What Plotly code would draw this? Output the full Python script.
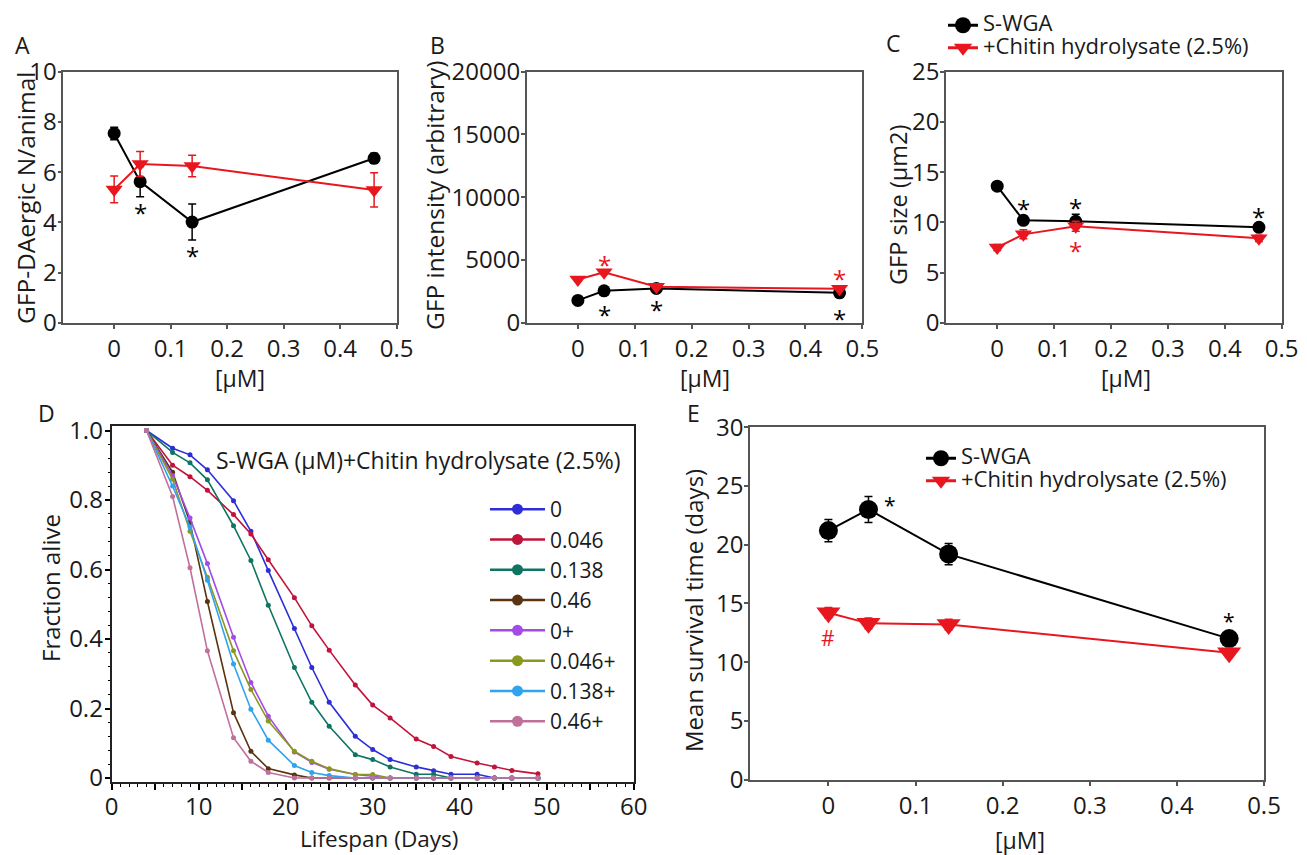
import plotly.graph_objects as go

# Reference canvas is 1307x855; the page body adds an 8px offset, so the
# figure itself is 8px smaller and every pixel position is shifted by 8.
W, H = 1307, 855
OFF = 8
FW, FH = W - OFF, H - OFF
FONT = "Open Sans"
RED = "#E8161E"
BLK = "#000000"
AX = "#555555"

# ---------------- data ----------------
conc = [0, 0.046, 0.138, 0.46]
x_ticks = [0, 0.1, 0.2, 0.3, 0.4, 0.5]
x_ticktext = ["0", "0.1", "0.2", "0.3", "0.4", "0.5"]

# Panel A: GFP-DAergic N/animal
a_swga = [7.54, 5.62, 4.01, 6.55]
a_swga_err = [0.25, 0.6, 0.72, 0.2]
a_chit = [5.31, 6.32, 6.24, 5.29]
a_chit_err = [0.53, 0.5, 0.43, 0.68]
a_star_black_x = [0.046, 0.138]
a_star_black_y = [4.62, 2.90]

# Panel B: GFP intensity
b_swga = [1775, 2543, 2728, 2384]
b_swga_err = [120, 150, 150, 150]
b_chit = [3444, 4026, 2861, 2702]
b_chit_err = [120, 150, 120, 120]
b_star_black_x = [0.046, 0.138, 0.46]
b_star_black_y = [1113, 1510, 795]
b_star_red_x = [0.046, 0.46]
b_star_red_y = [5086, 3974]

# Panel C: GFP size
c_swga = [13.6, 10.2, 10.1, 9.5]
c_swga_err = [0.4, 0.4, 0.7, 0.3]
c_chit = [7.5, 8.8, 9.6, 8.4]
c_chit_err = [0.3, 0.45, 0.5, 0.3]
c_star_black_x = [0.046, 0.138, 0.46]
c_star_black_y = [11.95, 12.12, 11.19]
c_star_red_x = [0.138]
c_star_red_y = [7.80]

# Panel D: survival curves
days = [4, 7, 9, 11, 14, 16, 18, 21, 23, 25, 28, 30, 32, 35, 37, 39, 42, 44, 46, 49]
d_labels = ["0", "0.046", "0.138", "0.46", "0+", "0.046+", "0.138+", "0.46+"]
d_0 = [1.0, 0.949, 0.93, 0.887, 0.798, 0.71, 0.597, 0.43, 0.318, 0.218, 0.12, 0.082, 0.053, 0.032, 0.021, 0.011, 0.011, 0.0, 0.0, 0.0]
d_0046 = [1.0, 0.9, 0.867, 0.828, 0.758, 0.702, 0.628, 0.519, 0.438, 0.368, 0.268, 0.21, 0.173, 0.112, 0.091, 0.062, 0.043, 0.032, 0.022, 0.012]
d_0138 = [1.0, 0.937, 0.907, 0.858, 0.726, 0.626, 0.497, 0.318, 0.218, 0.149, 0.067, 0.053, 0.032, 0.011, 0.011, 0.0, 0.0, 0.0, 0.0, 0.0]
d_046 = [1.0, 0.88, 0.735, 0.508, 0.188, 0.077, 0.027, 0.009, 0.0, 0.0, 0.0, 0.0, 0.0, 0.0, 0.0, 0.0, 0.0, 0.0, 0.0, 0.0]
d_0p = [1.0, 0.87, 0.748, 0.617, 0.405, 0.275, 0.178, 0.075, 0.045, 0.025, 0.01, 0.005, 0.0, 0.0, 0.0, 0.0, 0.0, 0.0, 0.0, 0.0]
d_0046p = [1.0, 0.86, 0.71, 0.578, 0.366, 0.255, 0.164, 0.077, 0.048, 0.027, 0.01, 0.01, 0.0, 0.0, 0.0, 0.0, 0.0, 0.0, 0.0, 0.0]
d_0138p = [1.0, 0.84, 0.722, 0.569, 0.328, 0.198, 0.109, 0.036, 0.016, 0.007, 0.0, 0.0, 0.0, 0.0, 0.0, 0.0, 0.0, 0.0, 0.0, 0.0]
d_046p = [1.0, 0.81, 0.605, 0.366, 0.116, 0.048, 0.016, 0.0, 0.0, 0.0, 0.0, 0.0, 0.0, 0.0, 0.0, 0.0, 0.0, 0.0, 0.0, 0.0]
d_series = [d_0, d_0046, d_0138, d_046, d_0p, d_0046p, d_0138p, d_046p]
d_colors = ["#2E2ED8", "#C0143C", "#0F7562", "#5A3410", "#A24BE6", "#8A981F", "#2FA3EE", "#C0709A"]

# Panel E: mean survival time
e_swga = [21.2, 23.0, 19.2, 12.0]
e_swga_err = [0.95, 1.1, 0.9, 0.3]
e_chit = [14.2, 13.3, 13.2, 10.8]
e_chit_err = [0.45, 0.45, 0.45, 0.4]
e_star_black_x = [0.071, 0.46]
e_star_black_y = [23.8, 13.94]
e_hash_x = [0]
e_hash_y = [12.1]

# ---------------- layout helpers (reference pixel -> paper) ----------------
def px(x):
    return (x - OFF) / FW

def py(y):
    return 1 - (y - OFF) / FH

def dom_x(l, r):
    return [px(l), px(r)]

def dom_y(t, b):
    return [py(b), py(t)]

fig = go.Figure()

def pair(xa, ya, s, s_err, c, c_err, msize, tsize, lw):
    fig.add_trace(go.Scatter(
        x=conc, y=s, mode="lines+markers", xaxis=xa, yaxis=ya, showlegend=False,
        line=dict(color=BLK, width=lw), marker=dict(symbol="circle", size=msize, color=BLK),
        error_y=dict(type="data", array=s_err, color=BLK, thickness=1.5, width=4)))
    fig.add_trace(go.Scatter(
        x=conc, y=c, mode="lines+markers", xaxis=xa, yaxis=ya, showlegend=False,
        line=dict(color=RED, width=lw), marker=dict(symbol="triangle-down", size=tsize, color=RED),
        error_y=dict(type="data", array=c_err, color=RED, thickness=1.5, width=4)))

def stars(xa, ya, xs, ys, color, size=24, txt="*", shift=-6):
    for xv, yv in zip(xs, ys):
        fig.add_annotation(x=xv, y=yv, xref=xa, yref=ya, text=txt, showarrow=False,
                           xanchor="center", yanchor="middle", yshift=shift,
                           font=dict(size=size, color=color, family=FONT))

pair("x", "y", a_swga, a_swga_err, a_chit, a_chit_err, 13, 15, 2)
stars("x", "y", a_star_black_x, a_star_black_y, BLK)

pair("x2", "y2", b_swga, b_swga_err, b_chit, b_chit_err, 13, 15, 2)
stars("x2", "y2", b_star_black_x, b_star_black_y, BLK)
stars("x2", "y2", b_star_red_x, b_star_red_y, RED)

pair("x3", "y3", c_swga, c_swga_err, c_chit, c_chit_err, 13, 15, 2)
stars("x3", "y3", c_star_black_x, c_star_black_y, BLK)
stars("x3", "y3", c_star_red_x, c_star_red_y, RED)

for name, vals, col in zip(d_labels, d_series, d_colors):
    fig.add_trace(go.Scatter(
        x=days, y=vals, mode="lines+markers", xaxis="x4", yaxis="y4", showlegend=False,
        line=dict(color=col, width=1.6), marker=dict(size=5, color=col), name=name))

pair("x5", "y5", e_swga, e_swga_err, e_chit, e_chit_err, 19, 21, 2)
stars("x5", "y5", e_star_black_x, e_star_black_y, BLK, size=21, shift=-5)
stars("x5", "y5", e_hash_x, e_hash_y, RED, size=21, txt="#", shift=-1)

# ---------------- legends (legend-only entries) ----------------
def leg_entry(name, color, symbol, legend, xa, ya, msize, lw):
    fig.add_trace(go.Scatter(
        x=[None], y=[None], mode="lines+markers", name=name, legend=legend,
        xaxis=xa, yaxis=ya, line=dict(color=color, width=lw),
        marker=dict(symbol=symbol, size=msize, color=color)))

BIG = "<span style='font-size:22px'>{}</span>"
leg_entry(BIG.format("S-WGA"), BLK, "circle", "legend", "x3", "y3", 16, 3)
leg_entry(BIG.format("+Chitin hydrolysate (2.5%)"), RED, "triangle-down", "legend", "x3", "y3", 16, 3)
for name, col in zip(d_labels, d_colors):
    leg_entry(name, col, "circle", "legend2", "x4", "y4", 11, 2.5)
leg_entry(BIG.format("S-WGA"), BLK, "circle", "legend3", "x5", "y5", 16, 3)
leg_entry(BIG.format("+Chitin hydrolysate (2.5%)"), RED, "triangle-down", "legend3", "x5", "y5", 16, 3)

# ---------------- axes ----------------
def conc_xaxis(domain, anchor):
    return dict(domain=domain, anchor=anchor, range=[-0.09, 0.5], tickmode="array",
                tickvals=x_ticks, ticktext=x_ticktext, ticks="outside", ticklen=5,
                tickwidth=1.5, tickcolor=AX, showline=True, linecolor=AX, linewidth=1.5,
                mirror=True, showgrid=False, zeroline=False, tickfont=dict(size=24),
                ticklabelstandoff=-1, automargin=False)

def val_yaxis(domain, anchor, rng, dtick):
    return dict(domain=domain, anchor=anchor, range=rng, tick0=0, dtick=dtick,
                ticks="outside", ticklen=4, tickwidth=1.5, tickcolor=AX, showline=True,
                linecolor=AX, linewidth=1.5, mirror=True, showgrid=False, zeroline=False,
                tickfont=dict(size=24), tickformat="d", ticklabelstandoff=-4,
                automargin=False)

top_y = dom_y(71.7, 322.7)
fig.update_layout(
    xaxis=conc_xaxis(dom_x(63.3, 396.7), "y"),
    yaxis=val_yaxis(top_y, "x", [0, 10], 2),
    xaxis2=conc_xaxis(dom_x(526.7, 862.3), "y2"),
    yaxis2=val_yaxis(top_y, "x2", [0, 20000], 5000),
    xaxis3=conc_xaxis(dom_x(946, 1281.7), "y3"),
    yaxis3=val_yaxis(top_y, "x3", [0, 25], 5),
    xaxis4=dict(domain=dom_x(111.7, 633.7), anchor="y4", range=[0, 60], tickmode="array",
                tickvals=list(range(0, 61, 5)),
                ticktext=["0", "", "10", "", "20", "", "30", "", "40", "", "50", "", "60"],
                ticks="outside", ticklen=6, tickwidth=1.5, tickcolor=BLK, showline=True,
                linecolor="#222", linewidth=2, mirror=True, showgrid=False, zeroline=False,
                tickfont=dict(size=24), ticklabelstandoff=-3, automargin=False,
                minor=dict(ticks="outside", ticklen=3, tickmode="linear", tick0=0, dtick=1,
                           tickcolor=BLK, tickwidth=1, showgrid=False)),
    yaxis4=dict(domain=dom_y(426, 781.5), anchor="x4", range=[-0.01, 1.013], tickmode="array",
                tickvals=[0, 0.2, 0.4, 0.6, 0.8, 1.0],
                ticktext=["0", "0.2", "0.4", "0.6", "0.8", "1.0"],
                ticks="outside", ticklen=5, tickwidth=1.5, tickcolor=BLK, showline=True,
                linecolor="#222", linewidth=2, mirror=True, showgrid=False, zeroline=False,
                tickfont=dict(size=24), ticklabelstandoff=-3, automargin=False,
                minor=dict(ticks="outside", ticklen=2, tickmode="linear", tick0=0, dtick=0.04,
                           tickcolor=BLK, tickwidth=1, showgrid=False)),
    xaxis5=conc_xaxis(dom_x(750, 1264), "y5"),
    yaxis5=val_yaxis(dom_y(427.3, 779.5), "x5", [0, 30], 5),
)

fig.update_layout(
    width=FW, height=FH, margin=dict(l=0, r=0, t=0, b=0, pad=0, autoexpand=False),
    plot_bgcolor="white", paper_bgcolor="white",
    font=dict(family=FONT, color="#1a1a1a"),
    legend=dict(x=px(943), y=py(9), xanchor="left", yanchor="top",
                font=dict(size=15, family=FONT, color="#1a1a1a"),
                bgcolor="rgba(0,0,0,0)", itemwidth=30, traceorder="normal"),
    legend2=dict(x=px(485), y=py(489), xanchor="left", yanchor="top",
                 font=dict(size=21, family=FONT, color="#1a1a1a"),
                 bgcolor="rgba(0,0,0,0)", itemwidth=55, traceorder="normal"),
    legend3=dict(x=px(921), y=py(442), xanchor="left", yanchor="top",
                 font=dict(size=15, family=FONT, color="#1a1a1a"),
                 bgcolor="rgba(0,0,0,0)", itemwidth=30, traceorder="normal"),
)

# ---------------- text: panel letters, axis titles ----------------
def ann(text, x, y, size, angle=0, color="#1a1a1a", xanchor="center"):
    fig.add_annotation(text=text, x=px(x), y=py(y), xref="paper", yref="paper",
                       showarrow=False, textangle=angle, xanchor=xanchor, yanchor="middle",
                       font=dict(size=size, family=FONT, color=color))

ann("A", 22, 45, 23)
ann("B", 437, 45, 23)
ann("C", 893, 43, 23)
ann("D", 46, 413, 23)
ann("E", 693, 413, 23)

ann("GFP-DAergic N/animal", 25, 198, 24.5, angle=-90)
ann("GFP intensity (arbitrary)", 434, 196, 24.5, angle=-90)
ann("GFP size (μm2)", 898, 205, 23.5, angle=-90)
ann("Fraction alive", 50, 588, 24, angle=-90)
ann("Mean survival time (days)", 693, 611, 24, angle=-90)

ann("[μM]", 240, 378, 23)
ann("[μM]", 705, 378, 23)
ann("[μM]", 1126, 378, 23)
ann("Lifespan (Days)", 379, 838, 22.5)
ann("[μM]", 1020, 840, 23)

ann("S-WGA (μM)+Chitin hydrolysate (2.5%)", 214, 460, 23, xanchor="left")

fig.write_html("out.html")
